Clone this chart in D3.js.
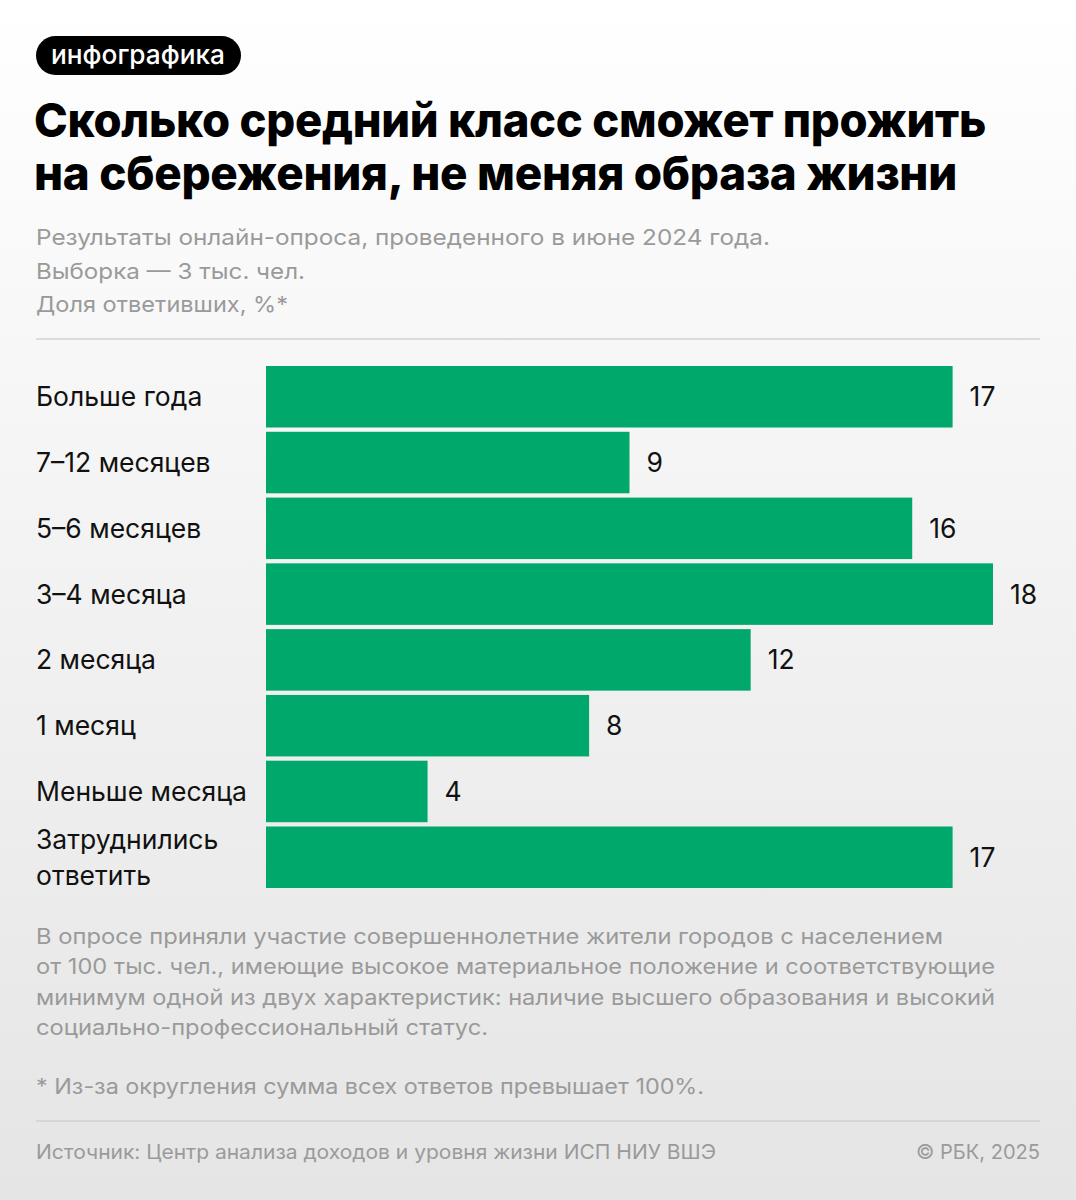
<!DOCTYPE html>
<html><head><meta charset="utf-8">
<script src="https://cdn.jsdelivr.net/npm/d3@7"></script>
<style>html,body{margin:0;padding:0;background:#fff}svg{display:block}</style>
</head><body>
<div id="chart"></div>
<script>
const categories = ["Больше года","7–12 месяцев","5–6 месяцев","3–4 месяца","2 месяца","1 месяц","Меньше месяца","Затруднились\nответить"];
const values = [17,9,16,18,12,8,4,17];
const titleLines = ["Сколько средний класс сможет прожить","на сбережения, не меняя образа жизни"];
const subtitleLines = ["Результаты онлайн-опроса, проведенного в июне 2024 года.","Выборка — 3 тыс. чел.","Доля ответивших, %*"];
const noteLines = ["В опросе приняли участие совершеннолетние жители городов с населением","от 100 тыс. чел., имеющие высокое материальное положение и соответствующие","минимум одной из двух характеристик: наличие высшего образования и высокий","социально-профессиональный статус."];
const footnote = "* Из-за округления сумма всех ответов превышает 100%.";
const source = "Источник: Центр анализа доходов и уровня жизни ИСП НИУ ВШЭ";
const copyright = "© РБК, 2025";

const W = 1076, H = 1200;
const FONT = "Inter, 'Noto Sans', 'DejaVu Sans', sans-serif";
const svg = d3.select("#chart").append("svg").attr("width", W).attr("height", H);
const defs = svg.append("defs");
const grad = defs.append("linearGradient").attr("id","bg").attr("x1",0).attr("y1",0).attr("x2",0).attr("y2",1);
grad.append("stop").attr("offset","0%").attr("stop-color","#ffffff");
grad.append("stop").attr("offset","45%").attr("stop-color","#f3f3f3");
grad.append("stop").attr("offset","100%").attr("stop-color","#e5e5e5");
svg.append("rect").attr("width",W).attr("height",H).attr("fill","url(#bg)");

function fit(t, w){
  const fs = parseFloat(t.attr("font-size"));
  const len = t.node().getComputedTextLength();
  if (len > 0) t.attr("font-size", fs * w / len);
  return t;
}

// badge
svg.append("rect").attr("x",36).attr("y",36).attr("width",205).attr("height",39).attr("rx",19.5).attr("fill","#000");
fit(svg.append("text").attr("x",51).attr("y",64).attr("font-family",FONT).attr("font-size",22).attr("font-weight",500).attr("fill","#fff").text("инфографика"),174);

// title
const titleW = [952, 923];
titleLines.forEach((l,i)=>{
  const t = svg.append("text").attr("x",34).attr("y",137+i*53).attr("font-family",FONT).attr("font-size",47).attr("font-weight",800).attr("fill","#000").attr("letter-spacing","-0.3").text(l);
  t.attr("textLength", titleW[i]).attr("lengthAdjust","spacingAndGlyphs");
});

// subtitle
const subW = [734, 269, 252];
subtitleLines.forEach((l,i)=>{
  const t = svg.append("text").attr("x",36).attr("y",245+i*33.5).attr("font-family",FONT).attr("font-size",22).attr("fill","#9a9a9a").text(l);
  t.attr("textLength", subW[i]).attr("lengthAdjust","spacingAndGlyphs");
});

svg.append("line").attr("x1",36).attr("x2",1040).attr("y1",339).attr("y2",339).attr("stroke","#d2d2d2").attr("stroke-width",1.5);

// chart
const x = d3.scaleLinear().domain([0,18]).range([266,993]);
const y = d3.scaleBand().domain(categories).range([366,888]).paddingInner(0.065).paddingOuter(0.0);

svg.append("g").selectAll("rect").data(values).join("rect")
  .attr("x", x(0)).attr("y",(d,i)=>y(categories[i]))
  .attr("width", d=>x(d)-x(0)).attr("height", y.bandwidth())
  .attr("fill","#00a86b");

svg.append("g").selectAll("text").data(values).join("text")
  .attr("x", d=>x(d)+17).attr("y",(d,i)=>y(categories[i])+y.bandwidth()/2+9.5)
  .attr("font-family",FONT).attr("font-size",26.5).attr("fill","#111").text(d=>d);

const lab = svg.append("g");
categories.forEach((c,i)=>{
  const parts = c.split("\n");
  const cy = y(c)+y.bandwidth()/2;
  const t = lab.append("text").attr("font-family",FONT).attr("font-size",26.5).attr("fill","#111");
  parts.forEach((p,j)=>{
    t.append("tspan").attr("x",36).attr("y", cy + 9.5 + (j-(parts.length-1)/2)*36).text(p);
  });
});

// notes
const noteW = [907, 959, 959, 452];
noteLines.forEach((l,i)=>{
  const t = svg.append("text").attr("x",36).attr("y",944+i*30.3).attr("font-family",FONT).attr("font-size",21).attr("fill","#9a9a9a").text(l);
  t.attr("textLength", noteW[i]).attr("lengthAdjust","spacingAndGlyphs");
});
svg.append("text").attr("x",36).attr("y",1094).attr("font-family",FONT).attr("font-size",21).attr("fill","#9a9a9a").text(footnote)
  .attr("textLength",668).attr("lengthAdjust","spacingAndGlyphs");

svg.append("line").attr("x1",36).attr("x2",1040).attr("y1",1121).attr("y2",1121).attr("stroke","#d0d0d0").attr("stroke-width",1.5);

svg.append("text").attr("x",36).attr("y",1159).attr("font-family",FONT).attr("font-size",20).attr("fill","#9a9a9a").text(source)
  .attr("textLength",680).attr("lengthAdjust","spacingAndGlyphs");
svg.append("text").attr("x",1040).attr("y",1159).attr("text-anchor","end").attr("font-family",FONT).attr("font-size",20).attr("fill","#9a9a9a").text(copyright)
  .attr("textLength",124).attr("lengthAdjust","spacingAndGlyphs");
</script>
</body></html>
